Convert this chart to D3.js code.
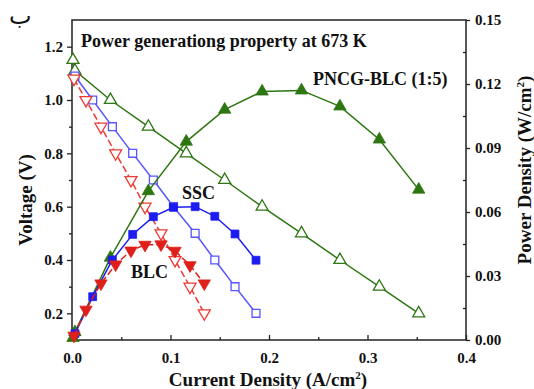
<!DOCTYPE html>
<html>
<head>
<meta charset="utf-8">
<script src="https://cdn.jsdelivr.net/npm/d3@7"></script>
<style>
  html, body { margin: 0; padding: 0; background: #fff; }
  svg { display: block; }
  text { font-family: "Liberation Serif", "Times New Roman", serif; font-weight: bold; fill: #111; }
</style>
</head>
<body>
<script>
// Current density (A/cm2), voltage (V) and power density (W/cm2) for each cell
const pncgCurrent = [0.001, 0.003, 0.039, 0.0775, 0.116, 0.155, 0.193, 0.233, 0.272, 0.312, 0.352];
const pncgVoltage = [1.15, 1.11, 1.0, 0.9, 0.8, 0.7, 0.6, 0.5, 0.4, 0.3, 0.2];
const pncgPower   = [0.001, 0.0037, 0.0386, 0.0698, 0.093, 0.108, 0.1165, 0.117, 0.1095, 0.094, 0.0705];

const sscCurrent = [0.003, 0.021, 0.041, 0.0616, 0.0826, 0.103, 0.125, 0.145, 0.1655, 0.1868];
const sscVoltage = [1.09, 1.0, 0.9, 0.8, 0.7, 0.6, 0.5, 0.4, 0.3, 0.2];
const sscPower   = [0.003, 0.0203, 0.0375, 0.0495, 0.0578, 0.0622, 0.0625, 0.058, 0.0497, 0.0374];

const blcCurrent = [0.002, 0.0142, 0.0294, 0.0443, 0.0599, 0.0741, 0.0904, 0.1046, 0.1198, 0.1343];
const blcVoltage = [1.08, 1.0, 0.9, 0.8, 0.7, 0.6, 0.5, 0.4, 0.3, 0.2];
const blcPower   = [0.002, 0.0142, 0.0265, 0.0354, 0.0419, 0.0446, 0.0448, 0.0418, 0.035, 0.0265];

const xTicks = [0.0, 0.1, 0.2, 0.3, 0.4];
const voltTicks = [0.2, 0.4, 0.6, 0.8, 1.0, 1.2];
const powerTicks = [0.00, 0.03, 0.06, 0.09, 0.12, 0.15];

const W = 534, H = 389;
const svg = d3.select("body").append("svg").attr("width", W).attr("height", H);

const x = d3.scaleLinear().domain([0, 0.4]).range([72, 466]);
const yV = d3.scaleLinear().domain([0.1, 1.3]).range([340, 20]);
const yP = d3.scaleLinear().domain([0, 0.15]).range([340, 20]);

const green = "#2d7612", blue = "#1c1cf0", blueOpen = "#5656ff", red = "#de1f1a", redOpen = "#ee3a34";

// Frame
svg.append("rect").attr("x", 72).attr("y", 20).attr("width", 394).attr("height", 320)
  .attr("fill", "none").attr("stroke", "#222").attr("stroke-width", 1.5);

// Axes
const fmt1 = d3.format(".1f"), fmt2 = d3.format(".2f");
const bottom = svg.append("g").attr("transform", "translate(0,340)")
  .call(d3.axisBottom(x).tickValues(xTicks).tickFormat(fmt1).tickSizeInner(-5).tickSizeOuter(0).tickPadding(15));
bottom.append("g").call(d3.axisBottom(x).tickValues([0.05, 0.15, 0.25, 0.35]).tickFormat("").tickSizeInner(-3).tickSizeOuter(0));
const left = svg.append("g").attr("transform", "translate(72,0)")
  .call(d3.axisLeft(yV).tickValues(voltTicks).tickFormat(fmt1).tickSizeInner(5).tickSizeOuter(0).tickPadding(4));
left.append("g").call(d3.axisLeft(yV).tickValues([0.3, 0.5, 0.7, 0.9, 1.1]).tickFormat("").tickSizeInner(3).tickSizeOuter(0));
const right = svg.append("g").attr("transform", "translate(466,0)")
  .call(d3.axisRight(yP).tickValues(powerTicks).tickFormat(fmt2).tickSizeInner(4).tickSizeOuter(0).tickPadding(5));
right.append("g").call(d3.axisRight(yP).tickValues([0.015, 0.045, 0.075, 0.105, 0.135]).tickFormat("").tickSizeInner(-3).tickSizeOuter(0));
svg.selectAll(".domain").remove();
svg.selectAll(".tick line").attr("stroke", "#222").attr("stroke-width", 1.3);
svg.selectAll(".tick text").style("font-size", "15px").attr("fill", "#111");
bottom.selectAll(".tick text").attr("dy", "0.55em");

// Series drawing
function series(cur, vals, yScale, color, dashed, symbol, rot, filled, size) {
  const pts = cur.map((c, i) => [x(c), yScale(vals[i])]);
  svg.append("path").attr("d", d3.line()(pts)).attr("fill", "none")
    .attr("stroke", color).attr("stroke-width", 1.5)
    .attr("stroke-dasharray", dashed ? "7,3" : null);
  svg.append("g").selectAll("path").data(pts).join("path")
    .attr("d", d3.symbol().type(symbol).size(size)())
    .attr("transform", d => `translate(${d[0]},${d[1]}) rotate(${rot})`)
    .attr("fill", filled ? color : "#fff")
    .attr("stroke", color).attr("stroke-width", filled ? 0.8 : 1.3);
}

series(pncgCurrent, pncgVoltage, yV, green, false, d3.symbolTriangle, 0, false, 62);
series(sscCurrent, sscVoltage, yV, blueOpen, false, d3.symbolSquare, 0, false, 62);
series(blcCurrent, blcVoltage, yV, redOpen, true, d3.symbolTriangle, 180, false, 62);
series(pncgCurrent, pncgPower, yP, green, false, d3.symbolTriangle, 0, true, 66);
series(sscCurrent, sscPower, yP, blue, false, d3.symbolSquare, 0, true, 62);
series(blcCurrent, blcPower, yP, red, true, d3.symbolTriangle, 180, true, 66);

// Text labels
svg.append("text").attr("x", 81).attr("y", 47).style("font-size", "18px")
  .text("Power generationg property at 673 K");
svg.append("text").attr("x", 313).attr("y", 85).style("font-size", "18px").text("PNCG-BLC (1:5)");
svg.append("text").attr("x", 182).attr("y", 199).style("font-size", "18px").text("SSC");
svg.append("text").attr("x", 131).attr("y", 278).style("font-size", "18px").text("BLC");
svg.append("text").attr("x", 9).attr("y", 24).style("font-size", "24px")
  .style("font-family", "'DejaVu Sans', sans-serif").style("font-weight", "normal").text("ب");

// Axis titles
const xt = svg.append("text").attr("x", 268).attr("y", 386).attr("text-anchor", "middle").style("font-size", "19px");
xt.append("tspan").text("Current Density (A/cm");
xt.append("tspan").attr("dy", -7).style("font-size", "11px").text("2");
xt.append("tspan").attr("dy", 7).text(")");

svg.append("text").attr("transform", "translate(32,200) rotate(-90)").attr("text-anchor", "middle")
  .style("font-size", "19px").text("Voltage (V)");

const yt = svg.append("text").attr("transform", "translate(531,170) rotate(-90)").attr("text-anchor", "middle").style("font-size", "19px");
yt.append("tspan").text("Power Density (W/cm");
yt.append("tspan").attr("dy", -7).style("font-size", "11px").text("2");
yt.append("tspan").attr("dy", 7).text(")");
</script>
</body>
</html>
